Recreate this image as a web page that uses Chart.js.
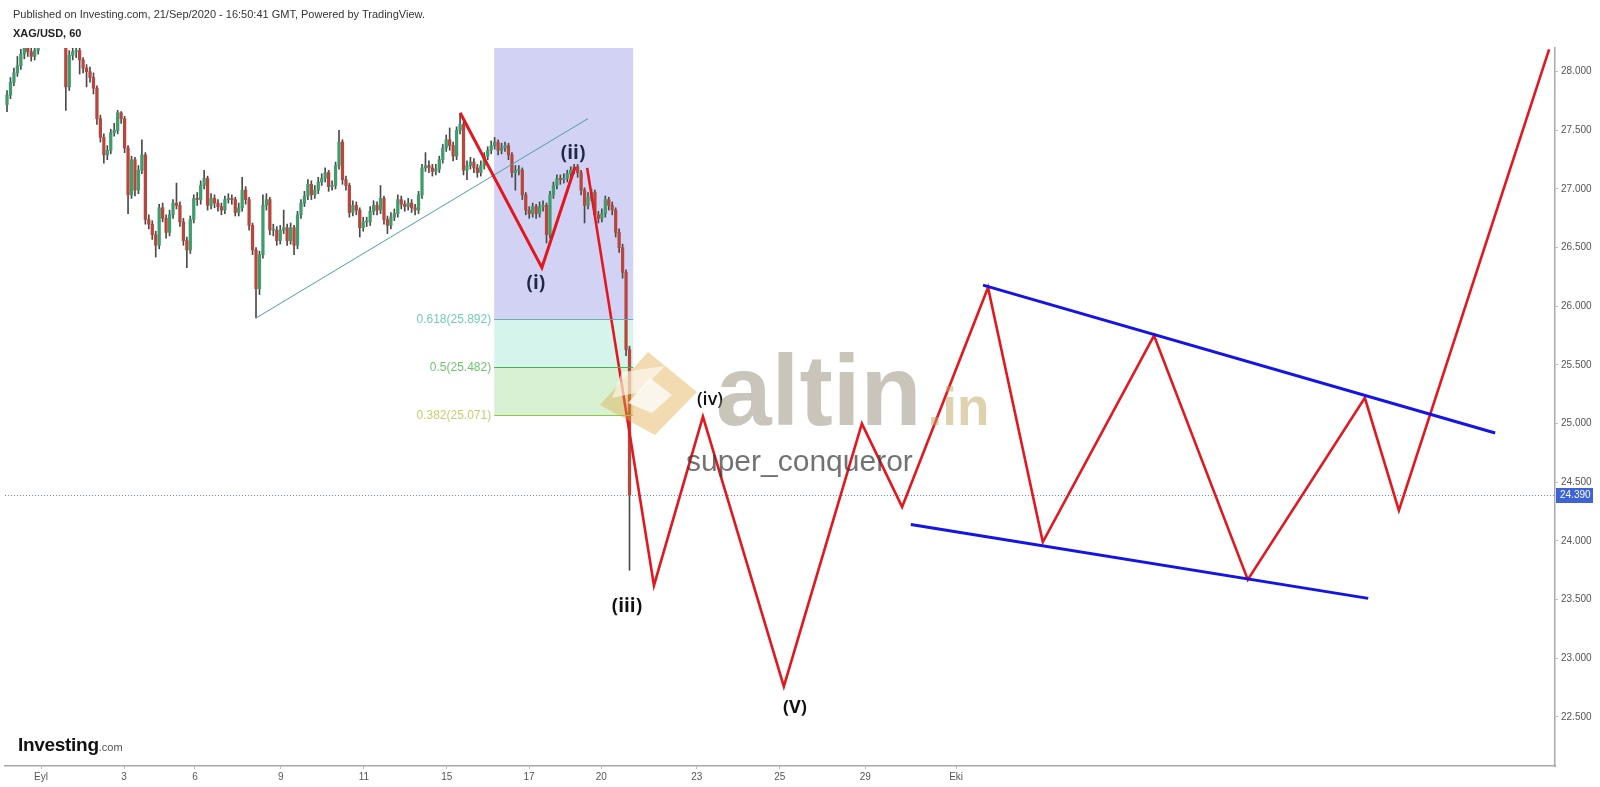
<!DOCTYPE html>
<html>
<head>
<meta charset="utf-8">
<script src="https://cdn.jsdelivr.net/npm/chart.js@4.4.0/dist/chart.umd.min.js"></script>
<style>
html,body{margin:0;padding:0;background:#fff;}
#wrap{position:relative;width:1600px;height:787px;overflow:hidden;background:#fff;}
#c{position:absolute;left:0;top:0;}
.t{position:absolute;white-space:nowrap;font-family:"Liberation Sans",Arial,sans-serif;pointer-events:none;}
</style>
</head>
<body>
<div id="wrap">
<canvas id="c" width="1600" height="787"></canvas>
<div class="t" style="left:13px;top:8px;font-size:11px;line-height:13px;color:#333;">Published on Investing.com, 21/Sep/2020 - 16:50:41 GMT, Powered by TradingView.</div>
<div class="t" style="left:13px;top:27px;font-size:11px;line-height:13px;color:#222;font-weight:bold;">XAG/USD, 60</div>

<svg class="t" style="left:0;top:0;" width="1600" height="787" viewBox="0 0 1600 787">
  <polygon points="600,405 648,352 697,392 655,435" fill="rgba(225,170,70,0.42)"/>
  <polygon points="628,403 650,378 672,395 652,413" fill="rgba(255,255,255,0.75)"/>
  <polygon points="622,372 665,366 640,392 612,398" fill="rgba(255,255,255,0.55)"/>
</svg>
<div class="t" style="left:716px;top:340px;font-size:100px;line-height:100px;font-weight:bold;color:rgba(150,140,120,0.5);">altin<span style="font-size:53px;margin-left:6px;color:rgba(190,165,100,0.5);">.in</span></div>
<div class="t" style="left:686px;top:446px;font-size:30px;line-height:30px;color:rgba(60,60,60,0.72);">super_conqueror</div>

<div class="t" style="left:18px;top:734px;font-family:'Liberation Sans Narrow','Liberation Sans',Arial,sans-serif;font-size:19px;line-height:22px;font-weight:bold;color:#111;letter-spacing:-0.3px;">Investing<span style="font-family:'Liberation Sans',Arial,sans-serif;font-size:11px;font-weight:normal;color:#555;letter-spacing:0;">.com</span></div>
</div>

<script>
// ---- data ----
const candleStart = -0.819;     // first 2-hour candle, in trading days from 1 Sep
const candleStep = 1 / 12;      // 2-hour candles
const opens = [
27.72,27.80,27.91,27.99,28.05,28.15,28.22,28.17,28.13,28.18,
28.27,28.44,28.61,28.70,28.65,28.57,28.48,28.36,27.87,28.14,
28.17,28.18,28.10,28.03,28.00,27.95,27.86,27.60,27.44,27.29,
27.33,27.48,27.50,27.65,27.60,27.35,26.95,27.25,26.99,27.16,
27.29,26.74,26.70,26.61,26.52,26.84,26.75,26.63,26.78,26.88,
26.86,26.72,26.56,26.48,26.74,26.92,26.91,27.03,27.09,26.86,
26.92,26.88,26.85,26.82,26.91,26.92,26.91,26.80,26.84,26.99,
26.91,26.69,26.48,26.15,26.44,26.86,26.91,26.65,26.65,26.56,
26.65,26.67,26.56,26.67,26.52,26.78,26.88,26.94,27.04,26.95,
26.99,27.06,27.09,27.14,27.02,27.03,27.20,27.40,27.08,27.03,
26.80,26.86,26.82,26.67,26.72,26.72,26.81,26.86,26.82,26.92,
26.74,26.69,26.76,26.79,26.91,26.87,26.85,26.88,26.84,26.82,
26.95,27.18,27.20,27.18,27.15,27.17,27.25,27.35,27.42,27.37,
27.28,27.50,27.55,27.16,27.20,27.23,27.18,27.14,27.20,27.28,
27.33,27.37,27.40,27.33,27.35,27.37,27.29,27.14,27.16,27.16,
26.95,26.82,26.79,26.85,26.79,26.85,26.86,26.61,26.95,27.03,
27.09,27.08,27.09,27.13,27.16,27.19,27.14,26.99,26.86,26.93,
26.97,26.78,26.75,26.79,26.91,26.86,26.82,26.63,26.50,26.29,25.63];
const highs = [
27.84,27.95,28.03,28.13,28.19,28.26,28.25,28.20,28.22,28.31,
28.48,28.66,28.80,28.75,28.68,28.60,28.52,28.38,28.18,28.22,
28.24,28.21,28.12,28.06,28.04,27.99,27.88,27.63,27.47,27.37,
27.51,27.56,27.67,27.66,27.62,27.37,27.28,27.27,27.20,27.42,
27.31,26.78,26.73,26.64,26.87,26.88,26.78,26.82,26.91,27.05,
26.89,26.75,26.59,26.77,26.95,26.97,27.07,27.16,27.11,26.96,
26.95,26.91,26.88,26.94,26.96,26.95,26.93,26.88,27.10,27.02,
26.93,26.71,26.50,26.47,26.95,26.96,26.93,26.70,26.68,26.69,
26.82,26.70,26.71,26.69,26.81,26.91,26.98,27.08,27.07,27.03,
27.10,27.13,27.18,27.16,27.07,27.23,27.50,27.42,27.11,27.05,
26.90,26.89,26.84,26.76,26.76,26.85,26.90,26.89,27.03,26.94,
26.77,26.80,26.83,26.95,26.94,26.90,26.92,26.91,26.87,26.98,
27.21,27.31,27.24,27.21,27.21,27.28,27.38,27.46,27.52,27.40,
27.53,27.64,27.57,27.24,27.27,27.26,27.21,27.24,27.31,27.36,
27.41,27.44,27.42,27.39,27.40,27.39,27.31,27.20,27.20,27.18,
26.97,26.85,26.88,26.87,26.89,26.90,26.88,26.98,27.06,27.12,
27.12,27.13,27.16,27.19,27.21,27.21,27.16,27.01,26.97,27.00,
26.99,26.81,26.83,26.94,26.93,26.89,26.84,26.66,26.53,26.31,25.66];
const lows = [
27.66,27.77,27.88,27.96,28.02,28.11,28.13,28.09,28.10,28.15,
28.24,28.41,28.57,28.60,28.52,28.44,28.30,27.67,27.84,28.10,
28.12,27.98,27.99,27.87,27.91,27.81,27.55,27.40,27.22,27.25,
27.30,27.45,27.47,27.56,27.31,26.79,26.92,26.94,26.96,27.13,
26.70,26.66,26.57,26.42,26.49,26.72,26.58,26.60,26.75,26.83,
26.68,26.52,26.33,26.45,26.71,26.86,26.87,27.00,26.82,26.83,
26.84,26.81,26.78,26.79,26.88,26.87,26.77,26.77,26.81,26.87,
26.65,26.44,25.90,26.10,26.41,26.82,26.61,26.60,26.52,26.53,
26.62,26.52,26.53,26.44,26.49,26.75,26.85,26.91,26.91,26.92,
26.96,27.03,27.06,26.98,26.99,27.00,27.17,27.04,26.99,26.76,
26.77,26.78,26.59,26.64,26.68,26.69,26.78,26.78,26.79,26.70,
26.62,26.66,26.73,26.76,26.83,26.81,26.82,26.80,26.78,26.79,
26.92,27.15,27.14,27.11,27.12,27.14,27.22,27.32,27.33,27.24,
27.25,27.47,27.12,27.08,27.17,27.14,27.10,27.11,27.17,27.25,
27.30,27.34,27.29,27.30,27.32,27.25,27.10,26.99,27.12,26.91,
26.78,26.75,26.76,26.75,26.76,26.81,26.54,26.58,26.92,27.00,
27.04,27.05,27.06,27.10,27.13,27.10,26.95,26.71,26.83,26.90,
26.74,26.71,26.72,26.76,26.82,26.78,26.59,26.46,26.24,25.58,23.75];
const closes = [
27.80,27.91,27.99,28.05,28.15,28.22,28.17,28.13,28.18,28.27,
28.44,28.61,28.70,28.65,28.57,28.48,28.36,27.87,28.14,28.17,
28.18,28.10,28.03,28.00,27.95,27.86,27.60,27.44,27.29,27.33,
27.48,27.50,27.65,27.60,27.35,26.95,27.25,26.99,27.16,27.29,
26.74,26.70,26.61,26.52,26.84,26.75,26.63,26.78,26.88,26.86,
26.72,26.56,26.48,26.74,26.92,26.91,27.03,27.09,26.86,26.92,
26.88,26.85,26.82,26.91,26.92,26.91,26.80,26.84,26.99,26.91,
26.69,26.48,26.15,26.44,26.86,26.91,26.65,26.65,26.56,26.65,
26.67,26.56,26.67,26.52,26.78,26.88,26.94,27.04,26.95,26.99,
27.06,27.09,27.14,27.02,27.03,27.20,27.40,27.08,27.03,26.80,
26.86,26.82,26.67,26.72,26.72,26.81,26.86,26.82,26.92,26.74,
26.69,26.76,26.79,26.91,26.87,26.85,26.88,26.84,26.82,26.95,
27.18,27.20,27.18,27.15,27.17,27.25,27.35,27.42,27.37,27.28,
27.50,27.55,27.16,27.20,27.23,27.18,27.14,27.20,27.28,27.33,
27.37,27.40,27.33,27.35,27.37,27.29,27.14,27.16,27.16,26.95,
26.82,26.79,26.85,26.79,26.85,26.86,26.61,26.95,27.03,27.09,
27.08,27.09,27.13,27.16,27.19,27.14,26.99,26.86,26.93,26.97,
26.78,26.75,26.79,26.91,26.86,26.82,26.63,26.50,26.29,25.63,24.39];

const xTickPos    = [0, 2.0, 3.71, 5.78, 7.78, 9.78, 11.76, 13.5, 15.8, 17.8, 19.86, 22.05];
const xTickLabels = ['Eyl','3','6','9','11','15','17','20','23','25','29','Eki'];
const yTicks = [22.5, 23.0, 23.5, 24.0, 24.5, 25.0, 25.5, 26.0, 26.5, 27.0, 27.5, 28.0];
const xMin = -0.8675, xMax = 36.482, yMin = 22.081, yMax = 28.202;

const trendX = [5.18, 13.18];
const trendY = [25.90, 27.60];
const wave1X = [10.10, 12.07, 12.87];
const wave1Y = [27.65, 26.33, 27.19];
const wave2X = [13.16, 14.77, 15.95, 17.90, 19.78, 20.75, 22.82, 24.14, 26.82, 29.08, 31.90, 32.72, 36.34];
const wave2Y = [27.18, 23.62, 25.06, 22.76, 25.00, 24.29, 26.16, 23.99, 25.75, 23.67, 25.22, 24.26, 28.19];
const chanUpX = [22.70, 35.04];
const chanUpY = [26.18, 24.92];
const chanLoX = [20.96, 31.98];
const chanLoY = [24.14, 23.51];

const fibX = [10.92, 14.27];
const fibLevels = [25.892, 25.482, 25.071];
const fibNames = ['0.618(25.892)', '0.5(25.482)', '0.382(25.071)'];
const fibTopLevel = 29.0;
const lastPrice = 24.390;

// wave labels: text, anchored at a wave point
const waveLabels = ['(i)', '(ii)', '(iii)', '(iv)', '(V)'];
const waveAnchors = [[wave1X[1], wave1Y[1]], [wave1X[2], wave1Y[2]], [wave2X[1], wave2Y[1]], [wave2X[2], wave2Y[2]], [wave2X[3], wave2Y[3]]];

// ---- styles ----
const labelStyle = [
  {dx: -6, dy: 16, color: '#1e2848', font: 'bold 19px "Open Sans", "Liberation Sans", sans-serif'},
  {dx: -2, dy: -13, color: '#1e2848', font: 'bold 19px "Open Sans", "Liberation Sans", sans-serif'},
  {dx: -27, dy: 21, color: '#111', font: 'bold 19px "Open Sans", "Liberation Sans", sans-serif'},
  {dx: 7, dy: -17, color: '#111', font: '600 18px "Open Sans", "Liberation Sans", sans-serif'},
  {dx: 11, dy: 22, color: '#111', font: 'bold 18px "Open Sans", "Liberation Sans", sans-serif'}
];
const UP = '#3f9c6c', DOWN = '#b9463c', WICK = '#4a4a4a';

const pts = (xs, ys) => xs.map((x, i) => ({x, y: ys[i]}));
const cx = i => candleStart + i * candleStep;

const fibPlugin = {
  id: 'fib',
  beforeDatasetsDraw(chart) {
    const {ctx, chartArea: a, scales: {x, y}} = chart;
    ctx.save();
    ctx.beginPath(); ctx.rect(a.left, a.top, a.right - a.left, a.bottom - a.top); ctx.clip();
    const x0 = x.getPixelForValue(fibX[0]), x1 = x.getPixelForValue(fibX[1]);
    const yTop = Math.max(a.top, y.getPixelForValue(fibTopLevel));
    const y618 = y.getPixelForValue(fibLevels[0]), y5 = y.getPixelForValue(fibLevels[1]), y382 = y.getPixelForValue(fibLevels[2]);
    ctx.fillStyle = '#d2d3f4'; ctx.fillRect(x0, yTop, x1 - x0, y618 - yTop);
    ctx.fillStyle = '#d5f4ec'; ctx.fillRect(x0, y618, x1 - x0, y5 - y618);
    ctx.fillStyle = '#d7f1d2'; ctx.fillRect(x0, y5, x1 - x0, y382 - y5);
    // dotted last price line
    const yp = Math.round(y.getPixelForValue(lastPrice)) + 0.5;
    ctx.strokeStyle = '#6f88d6'; ctx.lineWidth = 1; ctx.setLineDash([1, 2]);
    ctx.beginPath(); ctx.moveTo(a.left, yp); ctx.lineTo(a.right, yp); ctx.stroke();
    ctx.setLineDash([]);
    ctx.restore();
  },
  afterDatasetsDraw(chart) {
    const {ctx, scales: {x, y}} = chart;
    const x0 = x.getPixelForValue(fibX[0]), x1 = x.getPixelForValue(fibX[1]);
    const lineCols = ['#6fa9b4', '#4caf50', '#95c545'];
    const textCols = ['#72cdb8', '#6fc46c', '#c4cf70'];
    ctx.save();
    fibLevels.forEach((lv, i) => {
      const yy = Math.round(y.getPixelForValue(lv)) + 0.5;
      ctx.strokeStyle = lineCols[i]; ctx.lineWidth = 1;
      ctx.beginPath(); ctx.moveTo(x0, yy); ctx.lineTo(x1, yy); ctx.stroke();
      ctx.fillStyle = textCols[i]; ctx.font = '12px "Liberation Sans", Arial, sans-serif';
      ctx.textAlign = 'right'; ctx.textBaseline = 'middle';
      ctx.fillText(fibNames[i], x0 - 3, yy);
    });
    // wave labels
    waveLabels.forEach((t, i) => {
      const s = labelStyle[i];
      const px = x.getPixelForValue(waveAnchors[i][0]) + s.dx;
      const py = y.getPixelForValue(waveAnchors[i][1]) + s.dy;
      ctx.font = s.font; ctx.fillStyle = s.color; ctx.textAlign = 'center'; ctx.textBaseline = 'middle';
      ctx.fillText(t, px, py);
    });
    ctx.restore();
  },
  afterDraw(chart) {
    const {ctx, chartArea: a, scales: {y}} = chart;
    const yp = y.getPixelForValue(lastPrice);
    ctx.save();
    ctx.fillStyle = '#3d63d6';
    ctx.fillRect(a.right + 1, Math.round(yp) - 7, 37, 15);
    ctx.fillStyle = '#fff'; ctx.font = '10px "Liberation Sans", Arial, sans-serif';
    ctx.textAlign = 'left'; ctx.textBaseline = 'middle';
    ctx.fillText(lastPrice.toFixed(3), a.right + 5, Math.round(yp) + 0.5);
    ctx.restore();
  }
};

Chart.defaults.font.family = '"Liberation Sans", Arial, sans-serif';

new Chart(document.getElementById('c'), {
  type: 'bar',
  data: {
    datasets: [
      {type: 'bar', label: 'wick', data: lows.map((l, i) => ({x: cx(i), y: [l, highs[i]]})),
       backgroundColor: WICK, barThickness: 1, grouped: false, clip: 0, order: 10, borderWidth: 0},
      {type: 'bar', label: 'body', data: opens.map((o, i) => ({x: cx(i), y: [o, closes[i]]})),
       backgroundColor: opens.map((o, i) => closes[i] >= o ? UP : DOWN),
       barThickness: 2.6, grouped: false, clip: 0, order: 9, borderWidth: 0, minBarLength: 1},
      {type: 'line', label: 'trend', data: pts(trendX, trendY), borderColor: '#4f9fa6', borderWidth: 1,
       pointRadius: 0, tension: 0, fill: false, order: 6},
      {type: 'line', label: 'wave1', data: pts(wave1X, wave1Y), borderColor: '#e3171e', borderWidth: 3,
       pointRadius: 0, tension: 0, fill: false, order: 4, borderJoinStyle: 'miter'},
      {type: 'line', label: 'wave2', data: pts(wave2X, wave2Y), borderColor: '#e3171e', borderWidth: 2.6,
       pointRadius: 0, tension: 0, fill: false, order: 4, borderJoinStyle: 'miter'},
      {type: 'line', label: 'chanUp', data: pts(chanUpX, chanUpY), borderColor: '#1414e6', borderWidth: 3,
       pointRadius: 0, tension: 0, fill: false, order: 2},
      {type: 'line', label: 'chanLo', data: pts(chanLoX, chanLoY), borderColor: '#1414e6', borderWidth: 3,
       pointRadius: 0, tension: 0, fill: false, order: 2}
    ]
  },
  options: {
    responsive: false, animation: false, devicePixelRatio: 1, events: [],
    layout: {padding: {left: 5, top: 48, right: 0, bottom: 0}},
    plugins: {legend: {display: false}, tooltip: {enabled: false}},
    scales: {
      x: {
        type: 'linear', min: xMin, max: xMax, offset: false, bounds: 'data',
        afterBuildTicks: s => { s.ticks = xTickPos.map(v => ({value: v})); },
        afterFit: s => { s.height = 21; },
        ticks: {autoSkip: false, maxRotation: 0, padding: 2, color: '#555',
          font: {size: 10, family: '"Liberation Sans Narrow", "Liberation Sans", Arial, sans-serif'},
          callback: (v, i) => xTickLabels[i]},
        grid: {offset: false, drawOnChartArea: false, drawTicks: true, tickLength: 3, color: '#bbb'},
        border: {display: true, color: '#a9a9a9', width: 1.5}
      },
      y: {
        type: 'linear', position: 'right', min: yMin, max: yMax, bounds: 'data',
        afterBuildTicks: s => { s.ticks = yTicks.map(v => ({value: v})); },
        afterFit: s => { s.width = 45; },
        ticks: {padding: 3, color: '#555', font: {size: 10}, callback: v => Number(v).toFixed(3)},
        grid: {offset: false, drawOnChartArea: false, drawTicks: true, tickLength: 3, color: '#bbb'},
        border: {display: true, color: '#a9a9a9', width: 1.5}
      }
    }
  },
  plugins: [fibPlugin]
});
</script>
</body>
</html>
